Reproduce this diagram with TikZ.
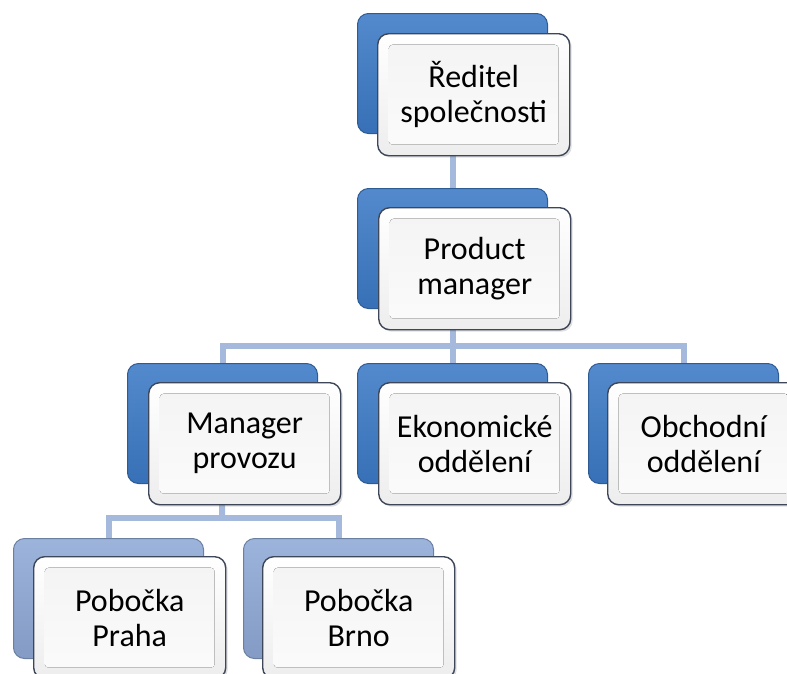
\documentclass[tikz,border=0pt]{standalone}
\usepackage{fontspec}
\setmainfont{Carlito}
\usetikzlibrary{backgrounds,shadows}
\definecolor{conncol}{HTML}{A4B9DC}
\definecolor{frontdraw}{HTML}{3E4759}
\tikzset{
  backbox/.style={rounded corners=11pt, minimum width=190pt, minimum height=120pt, anchor=north west,
     top color=#1!88!white, bottom color=#1!92!black, draw=#1!75!black, line width=1pt, inner sep=0pt},
  frontbox/.style={rounded corners=11pt, minimum width=192pt, minimum height=122pt, anchor=north west,
     top color=white, bottom color=gray!14, draw=frontdraw, line width=1.4pt, inner sep=0pt,
     drop shadow={opacity=0.25, shadow xshift=2pt, shadow yshift=-2pt},
     align=center, font=\fontsize{32}{35}\selectfont,
     path picture={\fill[rounded corners=4pt, top color=gray!9, bottom color=gray!3]
        ([shift={(11pt,-11pt)}]path picture bounding box.north west) rectangle
        ([shift={(-11pt,11pt)}]path picture bounding box.south east);}},
  conn/.style={draw=conncol, line width=6pt}
}
\definecolor{darkblue}{HTML}{3C7AC6}
\definecolor{lightblue}{HTML}{8FA9D6}
\begin{document}
\begin{tikzpicture}[x=1pt,y=-1pt]
\useasboundingbox (0,0) rectangle (787,673);
% level 1
\node[backbox=darkblue] (aB) at (357,13) {};
\node[frontbox] (a) at (377,33) {Ředitel\\společnosti};
% level 2
\node[backbox=darkblue] (bB) at (357,188) {};
\node[frontbox] (b) at (378,207) {Product\\manager};
% level 3
\node[backbox=darkblue] (cB) at (127,363) {};
\node[frontbox] (c) at (148,382) {Manager\\provozu};
\node[backbox=darkblue] (dB) at (357,363) {};
\node[frontbox] (d) at (378,382) {Ekonomické\\oddělení};
\node[backbox=darkblue] (eB) at (588,363) {};
\node[frontbox] (e) at (607,382) {Obchodní\\oddělení};
% level 4
\node[backbox=lightblue] (fB) at (13,538) {};
\node[frontbox] (f) at (33,556) {Pobočka\\Praha};
\node[backbox=lightblue] (gB) at (243,538) {};
\node[frontbox] (g) at (262,556) {Pobočka\\Brno};
% junctions
\coordinate (j1) at (452.5,345.5);
\coordinate (j2) at (222,518);
\begin{pgfonlayer}{background}
\draw[conn] (aB.center) -- (bB.center);
\draw[conn] (bB.center) -- (j1);
\draw[conn] (cB.center) |- (j1);
\draw[conn] (eB.center) |- (j1);
\draw[conn] (dB.center) -- (j1);
\draw[conn] (cB.center) -- (j2);
\draw[conn] (fB.center) |- (j2);
\draw[conn] (gB.center) |- (j2);
\end{pgfonlayer}
\end{tikzpicture}
\end{document}
